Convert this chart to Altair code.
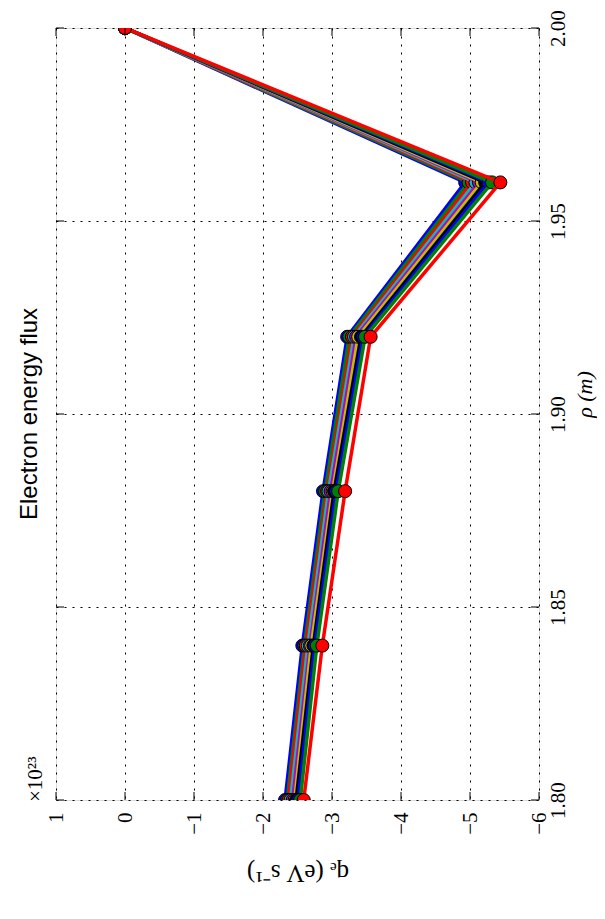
import altair as alt
import pandas as pd

# radial positions (m)
rho = [1.80, 1.84, 1.88, 1.92, 1.96, 2.00]

# electron energy flux, units of 1e23 eV/s, one list per series
s01 = [-2.32, -2.57, -2.87, -3.22, -4.93, 0.0]
s02 = [-2.35, -2.60, -2.90, -3.25, -4.98, 0.0]
s03 = [-2.37, -2.62, -2.93, -3.29, -5.03, 0.0]
s04 = [-2.40, -2.65, -2.95, -3.32, -5.08, 0.0]
s05 = [-2.43, -2.68, -2.98, -3.35, -5.13, 0.0]
s06 = [-2.46, -2.70, -3.01, -3.38, -5.17, 0.0]
s07 = [-2.48, -2.73, -3.03, -3.42, -5.22, 0.0]
s08 = [-2.51, -2.75, -3.06, -3.45, -5.27, 0.0]
s09 = [-2.54, -2.78, -3.09, -3.48, -5.32, 0.0]
s10 = [-2.59, -2.86, -3.19, -3.56, -5.44, 0.0]
series = [s01, s02, s03, s04, s05, s06, s07, s08, s09, s10]
colors = ["#0000ff", "#008000", "#ff0000", "#00bfbf", "#bf00bf",
          "#bfbf00", "#000000", "#0000ff", "#008000", "#ff0000"]

q_ticks = [1, 0, -1, -2, -3, -4, -5, -6]
rho_ticks = [1.80, 1.85, 1.90, 1.95, 2.00]

title_text = "Electron energy flux"
offset_text = "×10²³"

W, H = 483, 772
serif = "Liberation Serif"

xscale = alt.Scale(domain=[-6, 1], reverse=True, nice=False, zero=False)
yscale = alt.Scale(domain=[1.80, 2.00], nice=False, zero=False)

xaxis = alt.Axis(values=q_ticks, format="d", grid=True, gridColor="black",
                 gridDash=[2, 6], gridWidth=1, gridOpacity=1, ticks=False,
                 domain=False, labelAngle=270, labelAlign="right",
                 labelBaseline="middle", labelPadding=12, labelFont=serif,
                 labelFontSize=21, labelColor="black",
                 title="qₑ (eV s⁻¹)", titleFont=serif, titleFontSize=25,
                 titleFontWeight="normal", titleColor="black", titleAngle=180,
                 titleX=W / 2, titleY=72, titleAlign="center",
                 titleBaseline="middle", labelFlush=False, labelOverlap=False)
yaxis = alt.Axis(orient="right", values=rho_ticks, format=".2f", grid=True,
                 gridColor="black", gridDash=[2, 6], gridWidth=1, gridOpacity=1,
                 ticks=False, domain=False, labelAngle=270, labelAlign="center",
                 labelBaseline="top", labelPadding=8, labelFont=serif,
                 labelFontSize=21, labelColor="black", labelFlush=False,
                 labelOverlap=False,
                 title="ρ (m)", titleFont=serif, titleFontStyle="italic",
                 titleFontSize=22, titleFontWeight="normal", titleColor="black",
                 titleAngle=270, titleX=45, titleY=H / 2 - 20,
                 titleAlign="center", titleBaseline="middle")

X = alt.X("q:Q", scale=xscale, axis=xaxis)
Y = alt.Y("rho:Q", scale=yscale, axis=yaxis)

layers = []
for i, (vals, col) in enumerate(zip(series, colors)):
    df = pd.DataFrame({"rho": rho, "q": vals})
    base = alt.Chart(df)
    layers.append(base.mark_line(color=col, strokeWidth=3.5, clip=True).encode(
        x=X, y=Y, order=alt.Order("rho:Q")))
    layers.append(base.mark_point(shape="circle", filled=True, fill=col, stroke="black",
                                  strokeWidth=1, size=170, opacity=1, clip=True)
                  .encode(x=X, y=Y))

qt = pd.DataFrame({"q": q_ticks})
rt = pd.DataFrame({"rho": rho_ticks})
tick_style = dict(color="black", strokeWidth=1)
layers.append(alt.Chart(qt).mark_rule(**tick_style).encode(
    x=X, y=alt.value(H), y2=alt.value(H - 8)))
layers.append(alt.Chart(qt).mark_rule(**tick_style).encode(
    x=X, y=alt.value(0), y2=alt.value(8)))
layers.append(alt.Chart(rt).mark_rule(**tick_style).encode(
    y=Y, x=alt.value(0), x2=alt.value(8)))
layers.append(alt.Chart(rt).mark_rule(**tick_style).encode(
    y=Y, x=alt.value(W), x2=alt.value(W - 8)))

offset_df = pd.DataFrame({"t": [offset_text]})
layers.append(alt.Chart(offset_df).mark_text(
    angle=270, align="left", baseline="middle", font=serif, fontSize=21,
    color="black").encode(text="t:N", x=alt.value(-20), y=alt.value(H + 2)))

title_df = pd.DataFrame({"t": [title_text]})
layers.append(alt.Chart(title_df).mark_text(
    angle=270, align="center", baseline="middle", font="Liberation Sans", fontSize=24,
    color="black").encode(text="t:N", x=alt.value(-26), y=alt.value(H / 2)))

chart = alt.layer(*layers).properties(
    width=W, height=H,
    autosize=alt.AutoSizeParams(type="none"),
    padding={"left": 48, "top": 20, "right": 58, "bottom": 111},
).configure_view(stroke="black", strokeWidth=2).configure(background="white")

chart.save("out.html", embed_options={"renderer": "svg", "actions": False})
